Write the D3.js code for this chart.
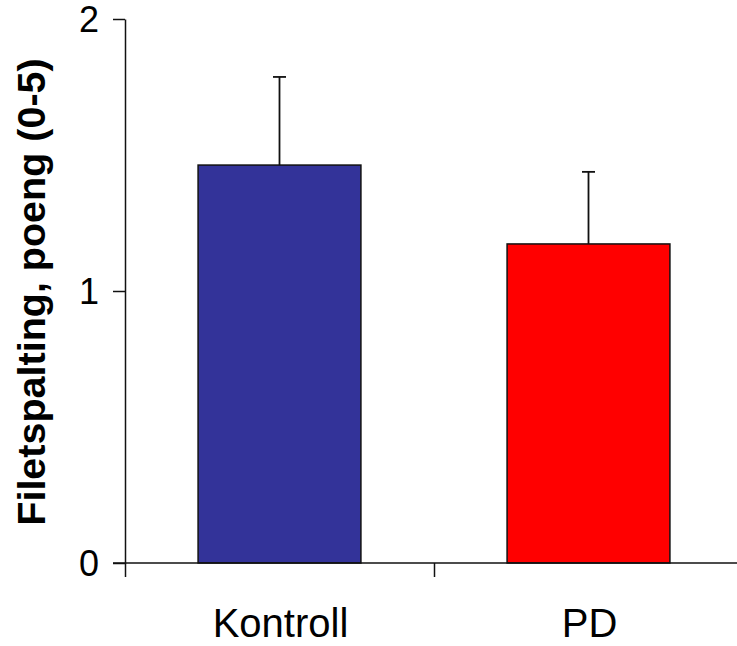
<!DOCTYPE html>
<html>
<head>
<meta charset="utf-8">
<script src="https://cdn.jsdelivr.net/npm/d3@7"></script>
<style>
  body { margin: 0; background: #fff; }
  text { font-family: Arial, "Liberation Sans", sans-serif; }
</style>
</head>
<body>
<svg id="chart" width="737" height="646"></svg>
<script>
// data
var groups = ["Kontroll", "PD"];
var means = [1.463, 1.173];
var errors = [0.324, 0.265];
var barColors = ["#333399", "#ff0000"];
var yTicks = [0, 1, 2];
var yTitle = "Filetspalting, poeng (0-5)";

var svg = d3.select("#chart");

var y = d3.scaleLinear().domain([0, 2]).range([563, 19]);
var xBand = d3.scaleBand().domain(groups).range([125, 743]).padding(0);
var xEdge = d3.scaleLinear().domain([0, groups.length]).range([125, 743]);
var barW = xBand.bandwidth() * 0.527;

// bars
svg.selectAll("rect.bar")
   .data(groups)
   .enter()
   .append("rect")
   .attr("class", "bar")
   .attr("x", function(d) { return xBand(d) + xBand.bandwidth() / 2 - barW / 2; })
   .attr("y", function(d, i) { return y(means[i]); })
   .attr("width", barW)
   .attr("height", function(d, i) { return y(0) - y(means[i]); })
   .attr("fill", function(d, i) { return barColors[i]; })
   .attr("stroke", "#111")
   .attr("stroke-width", 1.5);

// error bars (upper only)
var eb = svg.selectAll("g.err")
   .data(groups)
   .enter()
   .append("g")
   .attr("class", "err")
   .attr("stroke", "#111")
   .attr("stroke-width", 1.8);
eb.append("line")
  .attr("x1", function(d) { return xBand(d) + xBand.bandwidth() / 2; })
  .attr("x2", function(d) { return xBand(d) + xBand.bandwidth() / 2; })
  .attr("y1", function(d, i) { return y(means[i]); })
  .attr("y2", function(d, i) { return y(means[i] + errors[i]); });
eb.append("line")
  .attr("x1", function(d) { return xBand(d) + xBand.bandwidth() / 2 - 6.5; })
  .attr("x2", function(d) { return xBand(d) + xBand.bandwidth() / 2 + 6.5; })
  .attr("y1", function(d, i) { return y(means[i] + errors[i]); })
  .attr("y2", function(d, i) { return y(means[i] + errors[i]); });

// y axis
var yAxis = svg.append("g")
   .attr("transform", "translate(125,0)")
   .call(d3.axisLeft(y).tickValues(yTicks).tickFormat(d3.format("d")).tickSize(12).tickSizeOuter(0).tickPadding(14));
yAxis.attr("font-size", null).attr("font-family", null);
yAxis.selectAll("path, line").attr("stroke", "#111").attr("stroke-width", 1.5);
yAxis.selectAll("text")
     .attr("fill", "#000")
     .style("font-size", "36px")
     .attr("dy", "0.36em");

// x axis with ticks at the category edges
var xAxis = svg.append("g")
   .attr("transform", "translate(0,563)")
   .call(d3.axisBottom(xEdge).tickValues(d3.range(groups.length + 1)).tickFormat("").tickSize(14).tickSizeOuter(0));
xAxis.selectAll("path, line").attr("stroke", "#111").attr("stroke-width", 1.5);
xAxis.select("path.domain").attr("d", "M" + 113 + ",0H743");

// category labels
svg.selectAll("text.cat")
   .data(groups)
   .enter()
   .append("text")
   .attr("class", "cat")
   .attr("x", function(d) { return xBand(d) + xBand.bandwidth() / 2 + 1; })
   .attr("y", 637)
   .attr("text-anchor", "middle")
   .style("font-size", "40px")
   .text(function(d) { return d; });

// y title
svg.append("text")
   .attr("transform", "translate(45,292) rotate(-90)")
   .attr("text-anchor", "middle")
   .style("font-size", "39.5px")
   .style("font-weight", "bold")
   .text(yTitle);
</script>
</body>
</html>
